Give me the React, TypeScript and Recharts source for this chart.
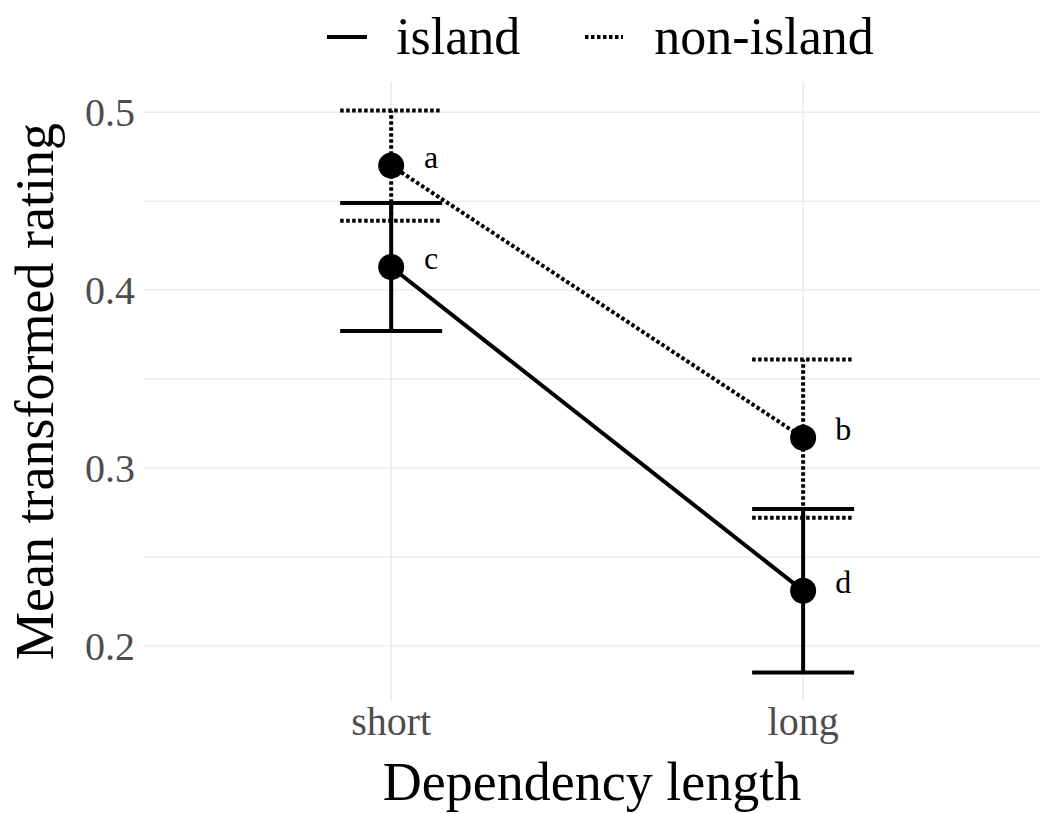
import React from "react";
import {
  ComposedChart,
  Line,
  XAxis,
  YAxis,
  ReferenceLine,
  ErrorBar,
  LabelList,
  Legend,
} from "recharts";

const categories = ["short", "long"];
const islandMean = [0.413, 0.231];
const islandLow = [0.377, 0.185];
const islandHigh = [0.449, 0.277];
const islandLetters = ["c", "d"];
const nonIslandMean = [0.47, 0.317];
const nonIslandLow = [0.439, 0.272];
const nonIslandHigh = [0.501, 0.361];
const nonIslandLetters = ["a", "b"];
const yTicks = [0.2, 0.3, 0.4, 0.5];
const yGridLines = [0.2, 0.25, 0.3, 0.35, 0.4, 0.45, 0.5];
const xPositions = [1, 2];

const FONT = "'Liberation Serif', 'DejaVu Serif', serif";
const DOTTED = "3.5 2.5";

function buildRows(mean: number[], low: number[], high: number[], letters: string[]) {
  return categories.map((_, i) => ({
    x: xPositions[i],
    value: mean[i],
    err: [mean[i] - low[i], high[i] - mean[i]],
    letter: letters[i],
  }));
}

const islandRows = buildRows(islandMean, islandLow, islandHigh, islandLetters);
const nonIslandRows = buildRows(nonIslandMean, nonIslandLow, nonIslandHigh, nonIslandLetters);

const renderLetter = (props: any) => {
  const { x, y, value } = props;
  return (
    <text x={x + 40} y={y + 2} textAnchor="middle" fontSize={32} fontFamily={FONT} fill="#000">
      {value}
    </text>
  );
};

const LegendContent = () => (
  <div
    style={{
      height: 82,
      display: "flex",
      justifyContent: "center",
      alignItems: "flex-start",
      paddingLeft: 160,
      fontFamily: FONT,
      fontSize: 52,
      lineHeight: "52px",
      color: "#000",
    }}
  >
    <div style={{ display: "flex", alignItems: "center", marginTop: 11 }}>
      <svg width={42} height={10} style={{ marginRight: 28 }}>
        <line x1={1} y1={5} x2={41} y2={5} stroke="#000" strokeWidth={4} />
      </svg>
      <span>island</span>
      <svg width={40} height={10} style={{ marginLeft: 64, marginRight: 30 }}>
        <line x1={1} y1={5} x2={39} y2={5} stroke="#000" strokeWidth={4} strokeDasharray={DOTTED} />
      </svg>
      <span>non-island</span>
    </div>
  </div>
);

export default function App() {
  return (
    <div style={{ position: "absolute", left: 0, top: 0, width: 1040, height: 814, background: "#fff" }}>
      <ComposedChart width={1040} height={814} margin={{ top: 0, right: 0, bottom: 0, left: 0 }}>
        {yGridLines.map((v) => (
          <ReferenceLine key={`y${v}`} y={v} stroke="#ebebeb" strokeWidth={1.5} />
        ))}
        {xPositions.map((v) => (
          <ReferenceLine key={`x${v}`} x={v} stroke="#ebebeb" strokeWidth={1.5} />
        ))}
        <XAxis
          type="number"
          dataKey="x"
          domain={[0.4, 2.575]}
          ticks={xPositions}
          tickFormatter={(v: number) => categories[v - 1]}
          allowDataOverflow
          axisLine={false}
          tickLine={false}
          tickSize={6}
          tickMargin={0}
          height={113}
          tick={{ fill: "#4d4d4d", fontSize: 40, fontFamily: FONT }}
          label={{
            content: (p: any) => {
              const vb = p.viewBox;
              return (
                <text x={vb.x + vb.width / 2} y={vb.y + 99} textAnchor="middle" fontSize={54} fontFamily={FONT} fill="#000">
                  Dependency length
                </text>
              );
            },
          }}
        />
        <YAxis
          type="number"
          domain={[0.169, 0.517]}
          ticks={yTicks}
          allowDataOverflow
          axisLine={false}
          tickLine={false}
          tickSize={6}
          tickMargin={3}
          width={144}
          tick={{ fill: "#4d4d4d", fontSize: 40, fontFamily: FONT }}
          label={{
            content: (p: any) => {
              const vb = p.viewBox;
              const cx = vb.x + 53;
              const cy = vb.y + vb.height / 2;
              return (
                <text
                  x={cx}
                  y={cy}
                  textAnchor="middle"
                  fontSize={54}
                  fontFamily={FONT}
                  fill="#000"
                  transform={`rotate(-90, ${cx}, ${cy})`}
                >
                  Mean transformed rating
                </text>
              );
            },
          }}
        />
        <Legend verticalAlign="top" align="center" content={<LegendContent />} />
        <Line
          data={islandRows}
          dataKey="value"
          name="island"
          stroke="#000"
          strokeWidth={4}
          dot={{ r: 13, fill: "#000", stroke: "none" }}
          activeDot={false}
          isAnimationActive={false}
        >
          <ErrorBar dataKey="err" direction="y" width={51} stroke="#000" strokeWidth={4} />
          <LabelList dataKey="letter" content={renderLetter} />
        </Line>
        <Line
          data={nonIslandRows}
          dataKey="value"
          name="non-island"
          stroke="#000"
          strokeWidth={4}
          strokeDasharray={DOTTED}
          dot={{ r: 13, fill: "#000", stroke: "none", strokeDasharray: "none" }}
          activeDot={false}
          isAnimationActive={false}
        >
          <ErrorBar dataKey="err" direction="y" width={51} stroke="#000" strokeWidth={4} strokeDasharray={DOTTED} />
          <LabelList dataKey="letter" content={renderLetter} />
        </Line>
      </ComposedChart>
    </div>
  );
}
